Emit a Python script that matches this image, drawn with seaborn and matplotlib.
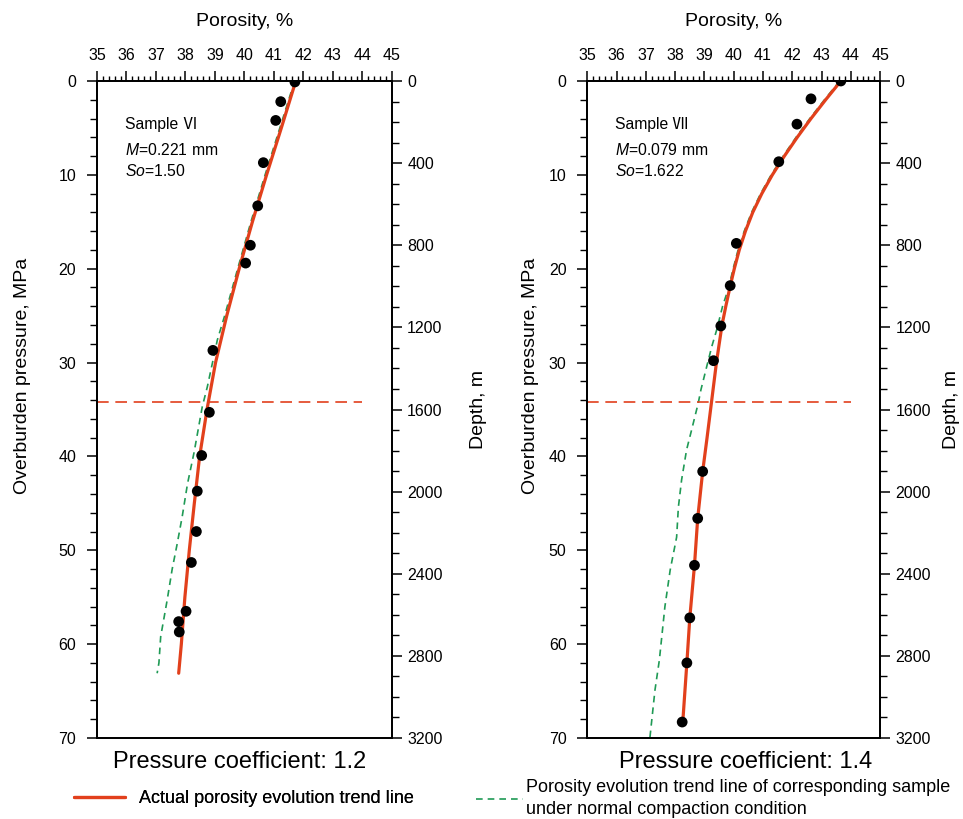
import numpy as np
import pandas as pd
import matplotlib
matplotlib.use("Agg")
import matplotlib.pyplot as plt
import seaborn as sns
from matplotlib.ticker import MultipleLocator

# ---------------- data ----------------
# Sample VI (pressure coefficient 1.2)
pts6_phi = [41.71, 41.23, 41.06, 40.64, 40.45, 40.20, 40.04, 38.93, 38.81, 38.55,
            38.40, 38.37, 38.20, 38.02, 37.77, 37.79]
pts6_p = [0.1, 2.2, 4.2, 8.7, 13.3, 17.5, 19.4, 28.7, 35.3, 39.9,
          43.7, 48.0, 51.3, 56.5, 57.6, 58.7]
trend6_phi = [41.74, 41.25, 40.75, 40.27, 39.82, 39.40, 39.02, 38.73, 38.48, 38.30,
              38.13, 37.98, 37.86, 37.77]
trend6_p = [0, 5, 10, 15, 20, 25, 30, 35, 40, 45, 50, 55, 60, 63.1]
normal6_phi = [41.70, 41.20, 40.70, 40.22, 39.77, 39.33, 39.08, 38.74, 38.57, 38.29,
               38.07, 37.89, 37.72, 37.55, 37.38, 37.16, 37.10, 37.04]
normal6_p = [0, 5, 10, 15, 20, 25, 27.6, 32.6, 34.7, 39.6,
             42.9, 46.4, 49.3, 52.0, 55.3, 59.2, 62.0, 63.1]

# Sample VII (pressure coefficient 1.4)
pts7_phi = [43.66, 42.64, 42.16, 41.54, 40.09, 39.88, 39.56, 39.31, 38.94, 38.77,
            38.66, 38.50, 38.40, 38.24]
pts7_p = [0.0, 1.9, 4.6, 8.6, 17.3, 21.8, 26.1, 29.8, 41.6, 46.6,
          51.6, 57.2, 62.0, 68.3]
trend7_phi = [43.66, 43.14, 42.64, 42.17, 41.73, 41.32, 40.96, 40.65, 40.40, 40.19,
              40.02, 39.87, 39.73, 39.60, 39.41, 39.25, 39.09, 38.94, 38.77, 38.66,
              38.50, 38.40, 38.26]
trend7_p = [0, 2, 4, 6, 8, 10, 12, 14, 16, 18,
            20, 22, 24, 26, 30, 34, 38, 41.6, 46.6, 51.6,
            57.2, 62.0, 68.3]
normal7_phi = [43.62, 43.10, 42.60, 42.13, 41.69, 41.28, 40.92, 40.61, 40.36, 40.15,
               39.98, 39.83, 39.62, 39.42, 39.25, 39.08, 38.88, 38.79, 38.56, 38.39,
               38.22, 38.11, 38.05, 37.83, 37.65, 37.46, 37.31, 37.14]
normal7_p = [0, 2, 4, 6, 8, 10, 12, 14, 16, 18,
             20, 22, 24, 26.5, 28.3, 30.4, 32.9, 34.3, 37.2, 39.3,
             42.5, 45.4, 48.6, 52.1, 56.0, 61.7, 64.9, 69.9]

overpressure_top = 34.2   # MPa, red dashed line
samples = ["Sample \u2165", "Sample \u2166"]
grain_size = ["0.221", "0.079"]
sorting = ["1.50", "1.622"]
pressure_coef = ["1.2", "1.4"]

RED = "#e2401c"
GREEN = "#1f9a55"

# ---------------- style ----------------
sns.set_theme(style="ticks", rc={
    "text.color": "black", "axes.labelcolor": "black",
    "xtick.color": "black", "ytick.color": "black",
    "axes.edgecolor": "black", "axes.linewidth": 1.3,
})
plt.rcParams["font.family"] = ["Liberation Sans", "Noto Sans CJK SC", "DejaVu Sans"]
plt.rcParams["mathtext.fontset"] = "custom"
plt.rcParams["mathtext.it"] = "Liberation Sans:italic"
plt.rcParams["mathtext.rm"] = "Liberation Sans"

fig = plt.figure(figsize=(9.63, 8.19), dpi=100)
ax_pos = [[0.1007, 0.0989, 0.3063, 0.8022], [0.6099, 0.0989, 0.3040, 0.8022]]
depth_pad = [20, 9]
ylab_x = [-0.224, -0.165]
title_x = [0.249, 0.774]

panels = [
    (pts6_phi, pts6_p, trend6_phi, trend6_p, normal6_phi, normal6_p),
    (pts7_phi, pts7_p, trend7_phi, trend7_p, normal7_phi, normal7_p),
]

handles = {}
for i, (pphi, pp, tphi, tp, nphi, npp) in enumerate(panels):
    ax = fig.add_axes(ax_pos[i])
    df_n = pd.DataFrame({"phi": nphi, "p": npp})
    df_t = pd.DataFrame({"phi": tphi, "p": tp})
    df_s = pd.DataFrame({"phi": pphi, "p": pp})

    sns.lineplot(data=df_n, x="phi", y="p", sort=False, estimator=None, ax=ax,
                 color=GREEN, lw=1.2, dashes=(4, 3))
    sns.lineplot(data=df_t, x="phi", y="p", sort=False, estimator=None, ax=ax,
                 color=RED, lw=2.3)
    sns.scatterplot(data=df_s, x="phi", y="p", ax=ax, color="black", s=60,
                    edgecolor="none", zorder=3)
    ax.hlines(overpressure_top, 35, 44, colors=RED, linestyles=(0, (7, 4)), lw=1.2)
    handles["green"] = ax.lines[0]
    handles["red"] = ax.lines[1]

    ax.set_xlim(35, 45)
    ax.set_ylim(70, 0)
    ax.xaxis.tick_top()
    ax.xaxis.set_label_position("top")
    ax.xaxis.set_major_locator(MultipleLocator(1))
    ax.xaxis.set_minor_locator(MultipleLocator(0.2))
    ax.yaxis.set_major_locator(MultipleLocator(10))
    ax.yaxis.set_minor_locator(MultipleLocator(2))
    ax.tick_params(axis="x", which="major", length=7, width=1.1, labelsize=11.5, pad=6)
    ax.tick_params(axis="x", which="minor", length=3.5, width=1.0)
    ax.tick_params(axis="y", which="major", length=7, width=1.1, labelsize=11.5, pad=8)
    ax.tick_params(axis="y", which="minor", length=5, width=1.0)
    ax.set_xlabel("Porosity, %", fontsize=14, labelpad=16)
    ax.set_ylabel("Overburden pressure, MPa", fontsize=14)
    ax.yaxis.set_label_coords(ylab_x[i], 0.551)

    ax.text(35.95, 4.6, samples[i], fontsize=11.3, va="center")
    ax.text(35.95, 7.4, f"$\\mathit{{M}}$={grain_size[i]} mm", fontsize=11.3, va="center")
    ax.text(35.95, 9.6, f"$\\mathit{{So}}$={sorting[i]}", fontsize=11.3, va="center")

    ax2 = ax.twinx()
    ax2.set_ylim(3200, 0)
    ax2.yaxis.set_major_locator(MultipleLocator(400))
    ax2.yaxis.set_minor_locator(MultipleLocator(100))
    ax2.tick_params(axis="y", which="major", length=7, width=1.1, labelsize=11.5, pad=4)
    ax2.tick_params(axis="y", which="minor", length=5, width=1.0)
    ax2.set_ylabel("Depth, m", fontsize=14, labelpad=depth_pad[i])

    fig.text(title_x[i], 0.069, f"Pressure coefficient: {pressure_coef[i]}", fontsize=17,
             ha="center", va="center")

leg1 = fig.legend(handles=[handles["red"]], labels=["Actual porosity evolution trend line"],
                  loc="center left", bbox_to_anchor=(0.06, 0.025), frameon=False,
                  fontsize=13, handlelength=2.8, handletextpad=0.8)
fig.add_artist(leg1)
leg2 = fig.legend(handles=[handles["green"]],
                  labels=["Porosity evolution trend line of corresponding sample\nunder normal compaction condition"],
                  loc="center left", bbox_to_anchor=(0.477, 0.025), frameon=False,
                  fontsize=13, handlelength=2.6, handletextpad=0.2)
for t in leg2.get_texts():
    t.set_linespacing(1.45)

fig.savefig("out.png", dpi=100)
